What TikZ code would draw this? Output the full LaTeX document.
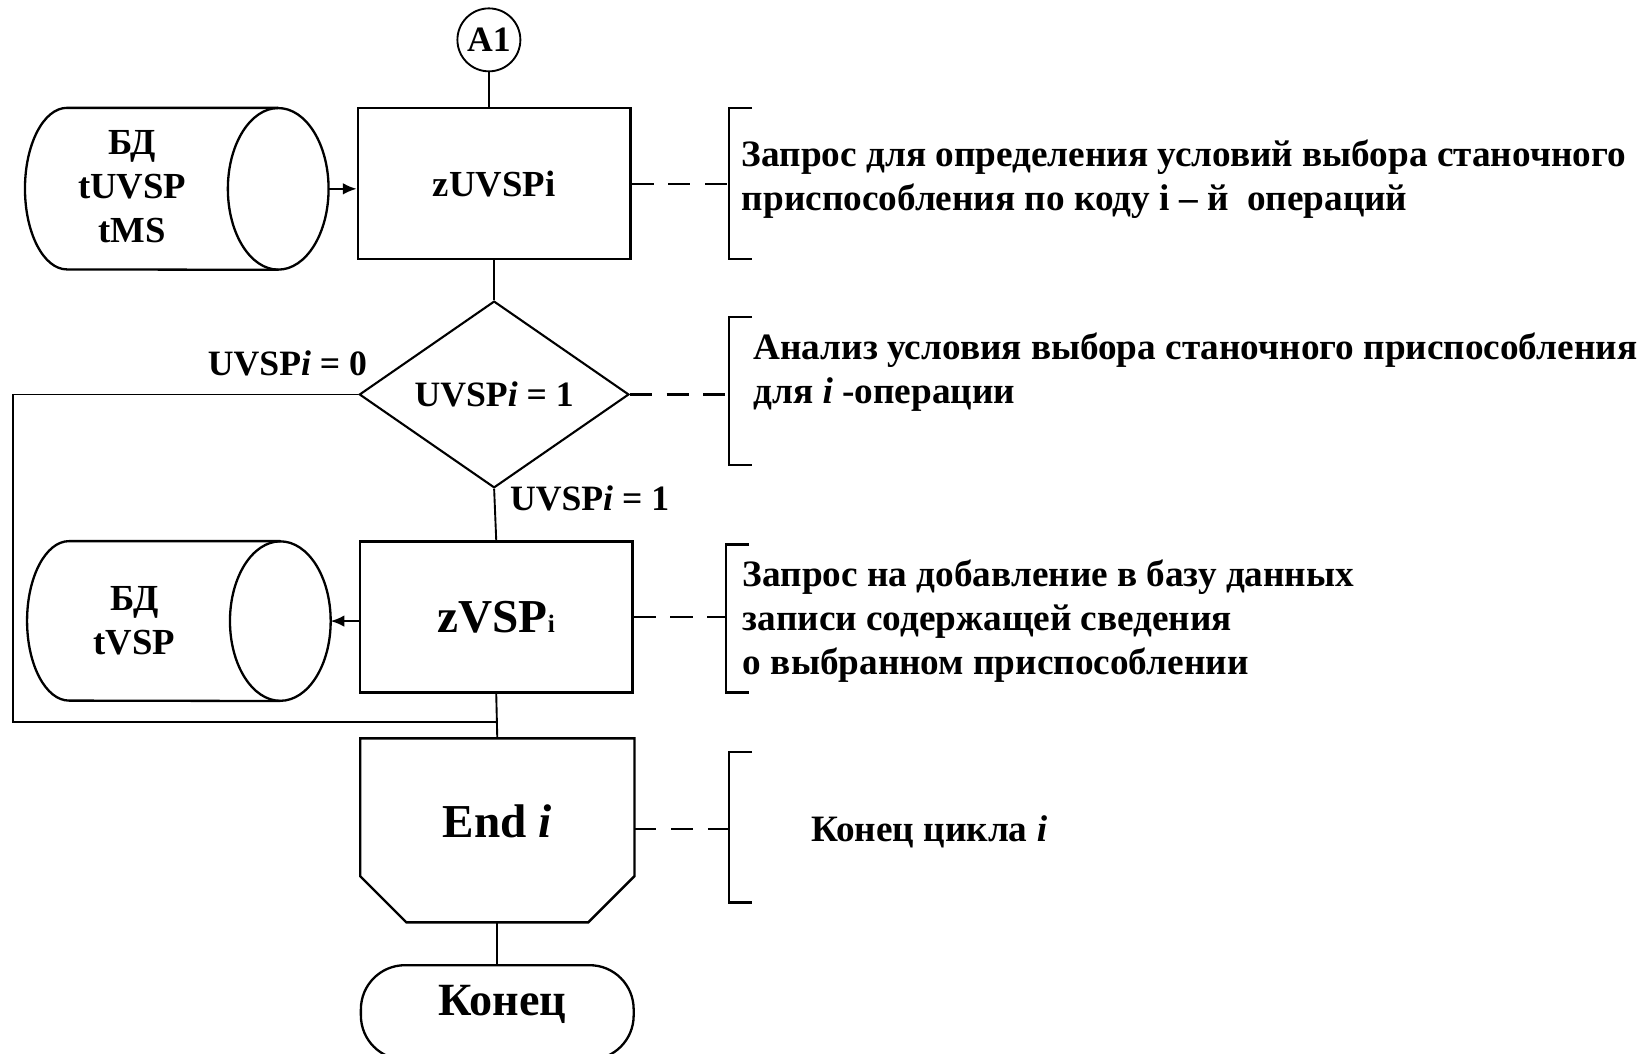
\documentclass[tikz,border=0pt]{standalone}
\usepackage{fontspec}
\setmainfont{Liberation Serif}
\usetikzlibrary{shapes.geometric,shapes.misc,arrows.meta,calc}
\begin{document}
\begin{tikzpicture}[x=1pt,y=1pt,
  shp/.style={draw, line width=2.2pt},
  box/.style={shp, minimum width=260pt, minimum height=144pt, inner sep=0pt},
  ln/.style={line width=1.8pt},
  dsh/.style={line width=2pt, dash pattern=on 21pt off 14pt},
  brk/.style={line width=2.4pt},
  txt/.style={inner sep=0pt, font=\bfseries\fontsize{35}{42}\selectfont, align=center},
  lbl/.style={inner sep=0pt, font=\bfseries\fontsize{34}{34}\selectfont},
  note/.style={align=left, anchor=west, inner sep=0pt, font=\bfseries\fontsize{35.5}{42}\selectfont},
  ]
\useasboundingbox (0,0) rectangle (1568,-1004);

% main column
\node[shp, circle, line width=1.8pt, minimum size=60pt, inner sep=0pt,
      font=\bfseries\fontsize{34}{34}\selectfont] (a1) at (466,-38) {A1};
\node[box, font=\bfseries\fontsize{35}{35}\selectfont] (b1) at (471,-175) {zUVSPi};
\node[shp, diamond, line width=2pt, minimum width=257pt, minimum height=178pt, aspect=1.44,
      inner sep=0pt, font=\bfseries\fontsize{34}{34}\selectfont] (d) at (471,-376) {UVSP\textit{i} = 1};
\node[box, font=\bfseries\fontsize{45}{45}\selectfont] (b2) at (473,-588)
      {zVSP{\fontsize{24}{24}\selectfont i}};
\node[minimum width=261pt, minimum height=175pt, inner sep=0pt] (e) at (474,-791.5) {};
\node[inner sep=0pt, font=\bfseries\fontsize{45}{45}\selectfont] (et) at (474,-783) {End \textit{i}};
\node[shp, rounded corners=42pt, minimum width=260pt, minimum height=90pt, inner sep=0pt] (k) at (474,-965) {};
\node[inner sep=0pt, font=\bfseries\fontsize{44}{44}\selectfont] (kt) at (479,-957) {Конец};

% End loop-limit shape
\draw[shp] (e.north west) -- (e.north east) -- ($(e.south east)+(0,44)$)
  -- ($(e.south east)+(-44,0)$) -- ($(e.south west)+(44,0)$) -- ($(e.south west)+(0,44)$) -- cycle;

% cylinder 1
\node[minimum width=289pt, minimum height=154pt, inner sep=0pt] (c1) at (168.5,-180) {};
\draw[shp] ($(c1.north east)+(-48,0)$) -- ($(c1.north west)+(40,0)$)
  arc[start angle=90, end angle=270, x radius=40, y radius=77] -- ($(c1.south east)+(-48,0)$);
\draw[shp] ($(c1.east)+(-48,0)$) ellipse[x radius=48, y radius=77];
\node[txt] (c1t) at (126,-178) {БД\\tUVSP\\tMS};

% cylinder 2
\node[minimum width=289pt, minimum height=152pt, inner sep=0pt] (c2) at (170.5,-592) {};
\draw[shp] ($(c2.north east)+(-48,0)$) -- ($(c2.north west)+(40,0)$)
  arc[start angle=90, end angle=270, x radius=40, y radius=76] -- ($(c2.south east)+(-48,0)$);
\draw[shp] ($(c2.east)+(-48,0)$) ellipse[x radius=48, y radius=76];
\node[txt] (c2t) at (128,-592) {БД\\tVSP};

% connectors
\draw[ln] (a1.south) -- (a1.south |- b1.north);
\draw[ln,-{Latex[length=13pt,width=11pt]}] (c1.east) -- (c1.east -| b1.west);
\draw[ln] (b1.south) -- (d.north);
\draw[ln] (d.south) -- (b2.north);
\draw[ln,-{Latex[length=13pt,width=11pt]}] (b2.west |- c2.east) -- (c2.east);
\coordinate (lp1) at (12,-376);
\coordinate (lp2) at (12,-688);
\draw[ln] (d.west) -- (lp1) -- (lp2) -- (lp2 -| b2.south);
\draw[ln] (b2.south) -- (e.north);
\draw[ln] (e.south) -- (k.north);

\node[lbl] (l0) at (274,-346) {UVSP\textit{i} = 0};
\node[lbl] (l1) at (562,-475) {UVSP\textit{i} = 1};

% annotations
\coordinate (k1) at (695,-175);
\draw[brk] (717,-103) -- (695,-103) -- (695,-247) -- (717,-247);
\draw[dsh] (b1.east) -- (k1);
\node[note] (n1) at (707,-171) {Запрос для определения условий выбора станочного\\приспособления по коду i – й\ \ операций};

\coordinate (k2) at (695,-376);
\draw[brk] (717,-302) -- (695,-302) -- (695,-443) -- (717,-443);
\draw[dsh] (d.east) -- (k2);
\node[note] (n2) at (718,-355) {Анализ условия выбора станочного приспособления\\для \textit{i} -операции};

\coordinate (k3) at (692,-588);
\draw[brk] (714,-519) -- (692,-519) -- (692,-660) -- (714,-660);
\draw[dsh] (b2.east) -- (k3);
\node[note] (n3) at (708,-592) {Запрос на добавление в базу данных\\записи содержащей сведения\\о выбранном приспособлении};

\coordinate (k4) at (695,-790);
\draw[brk] (717,-717) -- (695,-717) -- (695,-860) -- (717,-860);
\draw[dsh] (e.east |- k4) -- (k4);
\node[note] (n4) at (773,-793) {Конец цикла \textit{i}};
\end{tikzpicture}
\end{document}
